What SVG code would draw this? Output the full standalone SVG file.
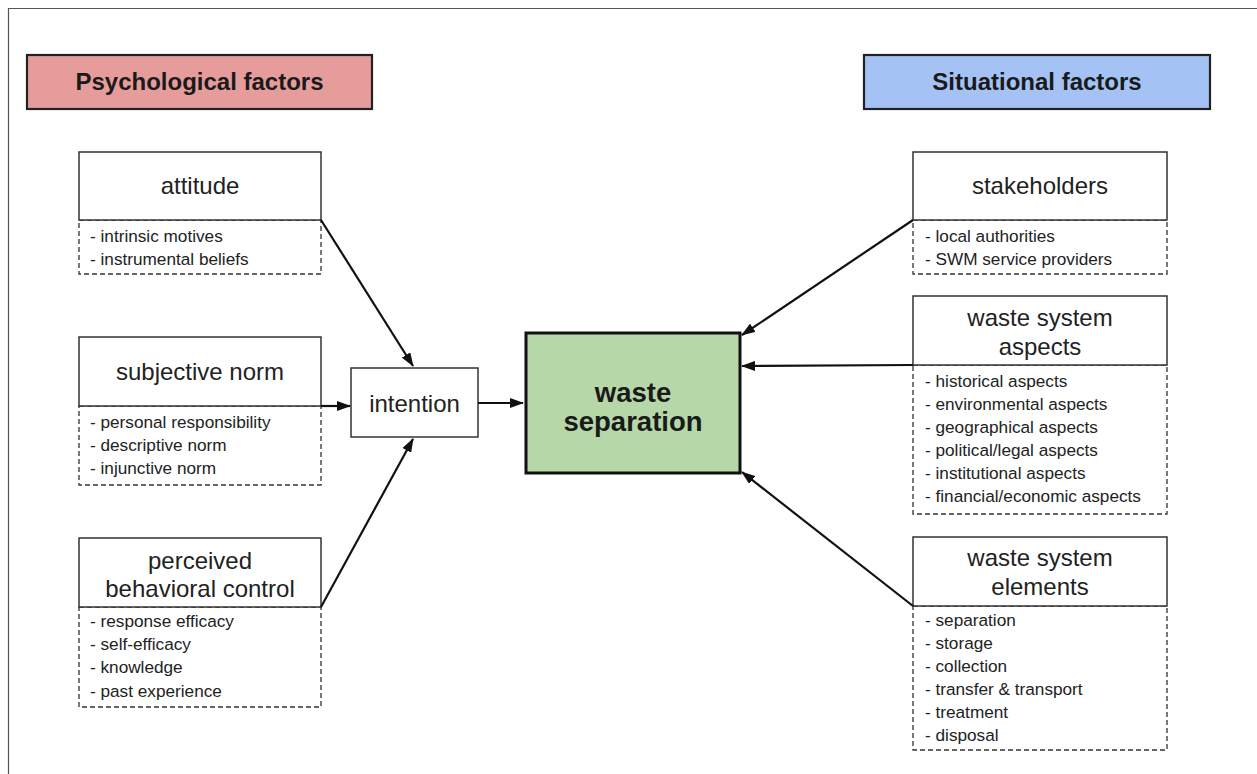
<svg xmlns="http://www.w3.org/2000/svg" width="1257" height="774" viewBox="0 0 1257 774">
<defs>
<marker id="arr" markerWidth="14" markerHeight="10" refX="13" refY="5" orient="auto" markerUnits="userSpaceOnUse">
<path d="M0,0 L14,5 L0,10 Z" fill="#111"/>
</marker>
<style>
.hdr{stroke:#222;stroke-width:2.2}
.hdrt{font-family:"Liberation Sans",Arial,sans-serif;font-weight:bold;font-size:24px;fill:#1a1a1a;text-anchor:middle}
.box{fill:#fff;stroke:#333;stroke-width:1.5}
.sub{fill:#fff;stroke:#333;stroke-width:1.3;stroke-dasharray:5 3}
.lbl{font-family:"Liberation Sans",Arial,sans-serif;font-size:24px;fill:#222;text-anchor:middle}
.it{font-family:"Liberation Sans",Arial,sans-serif;font-size:17.2px;fill:#222}
.con{stroke:#111;stroke-width:2.2;fill:none;marker-end:url(#arr)}
</style>
</defs>
<rect width="1257" height="774" fill="#fff"/>
<path d="M8.5,774 V8.5 H1257" fill="none" stroke="#555" stroke-width="1.2"/>

<g id="psychological-factors">
<rect class="hdr" x="27" y="55" width="345" height="54" fill="#e79c9c"/>
<text class="hdrt" x="199.5" y="90">Psychological factors</text>
</g>
<g id="situational-factors">
<rect class="hdr" x="864" y="55" width="346" height="54" fill="#a4c2f4"/>
<text class="hdrt" x="1037" y="90">Situational factors</text>
</g>

<g id="attitude">
<rect class="sub" x="79" y="220" width="242" height="54"/>
<rect class="box" x="79" y="152" width="242" height="68"/>
<text class="lbl" x="200" y="194">attitude</text>
<text class="it" x="90" y="242">- intrinsic motives</text>
<text class="it" x="90" y="265">- instrumental beliefs</text>
</g>

<g id="subjective-norm">
<rect class="sub" x="79" y="406" width="242" height="79"/>
<rect class="box" x="79" y="337" width="242" height="69"/>
<text class="lbl" x="200" y="380">subjective norm</text>
<text class="it" x="90" y="428">- personal responsibility</text>
<text class="it" x="90" y="451">- descriptive norm</text>
<text class="it" x="90" y="474">- injunctive norm</text>
</g>

<g id="perceived-behavioral-control">
<rect class="sub" x="79" y="607" width="242" height="100"/>
<rect class="box" x="79" y="538" width="242" height="69"/>
<text class="lbl" x="200" y="569">perceived</text>
<text class="lbl" x="200" y="597">behavioral control</text>
<text class="it" x="90" y="627">- response efficacy</text>
<text class="it" x="90" y="650">- self-efficacy</text>
<text class="it" x="90" y="673">- knowledge</text>
<text class="it" x="90" y="697">- past experience</text>
</g>

<g id="intention">
<rect class="box" x="351" y="368" width="127" height="69"/>
<text class="lbl" x="414.5" y="412">intention</text>
</g>

<g id="waste-separation">
<rect x="526" y="333" width="214" height="140" fill="#b6d7a8" stroke="#111" stroke-width="3"/>
<text class="hdrt" x="633" y="402" style="font-size:27.5px">waste</text>
<text class="hdrt" x="633" y="431" style="font-size:27.5px">separation</text>
</g>

<g id="stakeholders">
<rect class="sub" x="913" y="220" width="254" height="54"/>
<rect class="box" x="913" y="152" width="254" height="68"/>
<text class="lbl" x="1040" y="194">stakeholders</text>
<text class="it" x="925" y="242">- local authorities</text>
<text class="it" x="925" y="265">- SWM service providers</text>
</g>

<g id="waste-system-aspects">
<rect class="sub" x="913" y="365" width="254" height="149"/>
<rect class="box" x="913" y="296" width="254" height="69"/>
<text class="lbl" x="1040" y="326">waste system</text>
<text class="lbl" x="1040" y="355">aspects</text>
<text class="it" x="925" y="387">- historical aspects</text>
<text class="it" x="925" y="410">- environmental aspects</text>
<text class="it" x="925" y="433">- geographical aspects</text>
<text class="it" x="925" y="456">- political/legal aspects</text>
<text class="it" x="925" y="479">- institutional aspects</text>
<text class="it" x="925" y="502">- financial/economic aspects</text>
</g>

<g id="waste-system-elements">
<rect class="sub" x="913" y="606" width="254" height="144"/>
<rect class="box" x="913" y="537" width="254" height="69"/>
<text class="lbl" x="1040" y="566">waste system</text>
<text class="lbl" x="1040" y="595">elements</text>
<text class="it" x="925" y="626">- separation</text>
<text class="it" x="925" y="649">- storage</text>
<text class="it" x="925" y="672">- collection</text>
<text class="it" x="925" y="695">- transfer &amp; transport</text>
<text class="it" x="925" y="718">- treatment</text>
<text class="it" x="925" y="741">- disposal</text>
</g>

<g id="connectors">
<line class="con" x1="321" y1="220" x2="413" y2="366"/>
<line class="con" x1="321" y1="406" x2="350" y2="406"/>
<line class="con" x1="321" y1="607" x2="413" y2="439"/>
<line class="con" x1="478" y1="403" x2="523" y2="403"/>
<line class="con" x1="913" y1="220" x2="742" y2="335"/>
<line class="con" x1="913" y1="365" x2="742" y2="366"/>
<line class="con" x1="913" y1="606" x2="742" y2="472"/>
</g>
</svg>
